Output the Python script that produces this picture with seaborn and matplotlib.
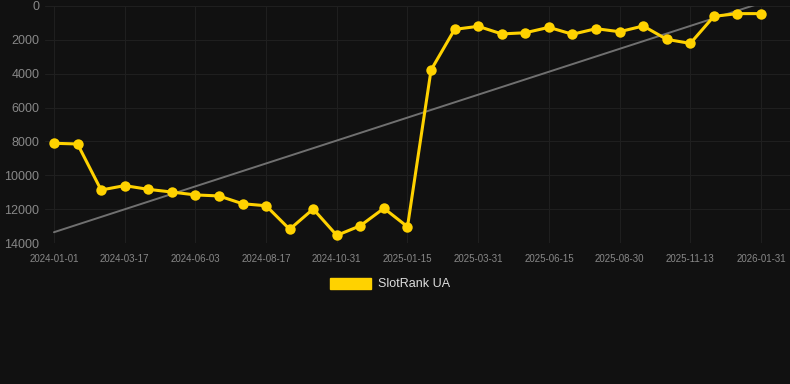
import numpy as np
import pandas as pd
import seaborn as sns
import matplotlib.pyplot as plt
from matplotlib.patches import Patch

# rank values (lower = better, axis reversed)
ranks = [8110, 8150, 10870, 10610, 10830, 10990, 11160, 11220, 11680, 11800,
         13190, 11990, 13550, 12980, 11950, 13040, 3780, 1380, 1200, 1650,
         1580, 1260, 1670, 1340, 1520, 1180, 1970, 2210, 610, 450, 450]
tick_labels = ["2024-01-01", "2024-03-17", "2024-06-03", "2024-08-17", "2024-10-31",
               "2025-01-15", "2025-03-31", "2025-06-15", "2025-08-30", "2025-11-13",
               "2026-01-31"]
y_ticks = [0, 2000, 4000, 6000, 8000, 10000, 12000, 14000]

df = pd.DataFrame({"idx": np.arange(len(ranks)), "rank": ranks})

sns.set_style("dark")
plt.rcParams["font.family"] = ["Liberation Sans", "DejaVu Sans"]

bg = "#111111"
gold = "#FFD200"

fig = plt.figure(figsize=(7.9, 3.84), dpi=100, facecolor=bg)
ax = fig.add_axes([45 / 790, 1 - 243 / 384, 1 - 45 / 790, (243 - 6) / 384])
ax.set_facecolor(bg)

# trend line
sns.regplot(x="idx", y="rank", data=df, ax=ax, scatter=False, ci=None,
            line_kws={"color": "#707070", "lw": 1.4, "zorder": 2})

sns.lineplot(x="idx", y="rank", data=df, ax=ax, color=gold, lw=2.2,
             marker="o", markersize=7.5, markeredgewidth=0, zorder=3)

ax.set_xlim(-0.38, 31.23)
ax.set_ylim(14000, 0)
ax.set_yticks(y_ticks)
ax.set_yticklabels([str(v) for v in y_ticks])
ax.set_xticks(np.arange(0, len(ranks), 3))
ax.set_xticklabels(tick_labels)
ax.tick_params(axis="y", colors="#888888", labelsize=9, length=0, pad=4)
ax.tick_params(axis="x", colors="#222222", labelcolor="#888888", labelsize=7,
               length=6, width=0.8, pad=2)
ax.grid(True, color="#1f1f1f", lw=0.8)
for s in ax.spines.values():
    s.set_visible(False)
ax.set_xlabel("")
ax.set_ylabel("")

handle = Patch(facecolor=gold, edgecolor=gold)
fig.legend([handle], ["SlotRank UA"], loc="center", bbox_to_anchor=(390 / 790, 1 - 284 / 384),
           frameon=False, labelcolor="#dddddd", fontsize=9, handlelength=3.3,
           handleheight=1.0, handletextpad=0.5)

fig.savefig("out.png", dpi=100, facecolor=bg)
